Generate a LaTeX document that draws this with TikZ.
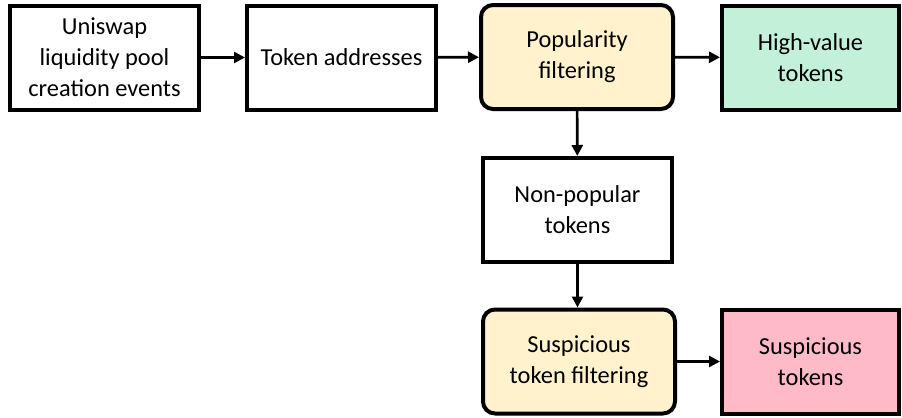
\documentclass[tikz,border=0pt]{standalone}
\usepackage{fontspec}
\setmainfont{Carlito}
\usetikzlibrary{arrows.meta}
\definecolor{filterY}{HTML}{FFF2CC}
\definecolor{goodG}{HTML}{C3F0D9}
\definecolor{badP}{HTML}{FFBAC7}

\begin{document}
\begin{tikzpicture}[x=0.5pt,y=-0.5pt,
                    boxND/.style={rectangle,
                                  draw=black,
                                  line width=2pt,
                                  minimum width=94.5pt,
                                  minimum height=52pt,
                                  inner sep=2pt,
                                  align=center,
                                  font=\fontsize{12.2}{15.5}\selectfont},
                    stepND/.style={boxND,
                                   rounded corners=6pt,
                                   fill=filterY,
                                   minimum width=96pt},
                    outND/.style={boxND,
                                  minimum width=88.5pt}]
    \useasboundingbox (0,0) rectangle (902,418);
    \node[boxND](pool)    at (104.5,57.5)  {Uniswap\\liquidity pool\\creation events};
    \node[boxND](addr)    at (341.5,57.5)  {Token addresses};
    \node[stepND](pop)    at (577,57)      {Popularity\\filtering};
    \node[outND,fill=goodG](high) at (810.5,57.5) {High-value\\tokens};
    \node[boxND](nonpop)  at (577.5,210)   {Non-popular\\tokens};
    \node[stepND](susf)   at (579,361.5)   {Suspicious\\token filtering};
    \node[outND,fill=badP](sus) at (810.5,361.5) {Suspicious\\tokens};
    \path[line width=1.3pt,-{Triangle[length=5.5pt,width=5.5pt]}]
        (pool)   edge (addr)
        (addr)   edge (pop)
        (pop)    edge (high)
                 edge (nonpop)
        (nonpop) edge (susf.north -| nonpop)
        (susf)   edge (sus)
        ;
\end{tikzpicture}
\end{document}
